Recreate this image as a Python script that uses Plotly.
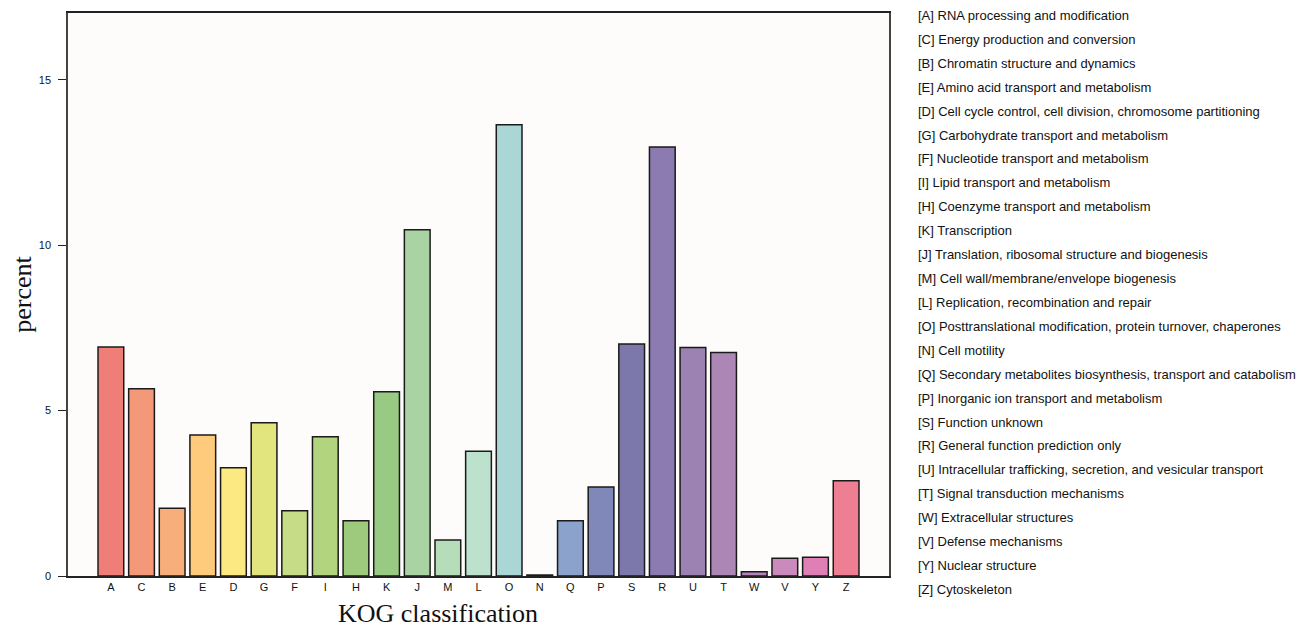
import plotly.graph_objects as go

categories = ["A","C","B","E","D","G","F","I","H","K","J","M","L","O","N","Q","P","S","R","U","T","W","V","Y","Z"]
percent = [6.92,5.66,2.05,4.26,3.27,4.63,1.97,4.21,1.67,5.57,10.47,1.09,3.77,13.64,0.03,1.67,2.69,7.01,12.97,6.91,6.76,0.13,0.54,0.57,2.88]
colors = ["#F07E78","#F39878","#F8AE79","#FDCB7B","#FDE981","#E2E57D","#C6DC86","#B3D47F","#9DCA7D",
          "#99CA84","#AAD3A3","#B6DDBA","#BCE1CD","#AAD6D6","#222222","#8BA3CC","#7F88B8","#7C78AC",
          "#8B7BB0","#9B82B3","#AC87B5","#B284BB","#CA8ABB","#DE80B6","#EE7F92"]
descriptions = [
    "[A] RNA processing and modification",
    "[C] Energy production and conversion",
    "[B] Chromatin structure and dynamics",
    "[E] Amino acid transport and metabolism",
    "[D] Cell cycle control, cell division, chromosome partitioning",
    "[G] Carbohydrate transport and metabolism",
    "[F] Nucleotide transport and metabolism",
    "[I] Lipid transport and metabolism",
    "[H] Coenzyme transport and metabolism",
    "[K] Transcription",
    "[J] Translation, ribosomal structure and biogenesis",
    "[M] Cell wall/membrane/envelope biogenesis",
    "[L] Replication, recombination and repair",
    "[O] Posttranslational modification, protein turnover, chaperones",
    "[N] Cell motility",
    "[Q] Secondary metabolites biosynthesis, transport and catabolism",
    "[P] Inorganic ion transport and metabolism",
    "[S] Function unknown",
    "[R] General function prediction only",
    "[U] Intracellular trafficking, secretion, and vesicular transport",
    "[T] Signal transduction mechanisms",
    "[W] Extracellular structures",
    "[V] Defense mechanisms",
    "[Y] Nuclear structure",
    "[Z] Cytoskeleton",
]

fig = go.Figure()
fig.add_trace(go.Bar(
    x=categories, y=percent,
    marker=dict(color=colors, line=dict(color="#1a1a1a", width=1.5)),
    showlegend=False,
))

# page body has an 8px offset; plot area target in screen px: x 66..889, y 11..576
OFF = 8
W, H = 1306, 622
ml, mr, mt = 66 - OFF, W - (889 - OFF), 11 - OFF
mb = H - (576 - OFF)
pw, ph = W - ml - mr, H - mt - mb


def px_to_paper(sx, sy):
    return (sx - OFF - ml) / pw, 1 - (sy - OFF - mt) / ph


for i, txt in enumerate(descriptions):
    px, py = px_to_paper(916.5, 13.5 + 24.0 * i)
    fig.add_annotation(
        xref="paper", yref="paper", x=px, y=py,
        text=txt, showarrow=False, xanchor="left", yanchor="middle",
        font=dict(family="Liberation Sans, Arial", size=13, color="#111111"),
    )

tx, ty = px_to_paper(437, 614)
fig.add_annotation(
    xref="paper", yref="paper", x=tx, y=ty, text="KOG classification",
    showarrow=False, xanchor="center", yanchor="middle",
    font=dict(family="Liberation Serif, Times New Roman", size=26, color="#111111"),
)

fig.update_layout(
    width=W, height=H,
    margin=dict(l=ml, r=mr, t=mt, b=mb),
    paper_bgcolor="white", plot_bgcolor="#FDFCFA",
    bargap=0.16,
    xaxis=dict(
        range=[-1.4, 25.4], showline=True, linecolor="#222222", linewidth=1.5,
        mirror=True, ticks="", showgrid=False, zeroline=False,
        tickfont=dict(family="Liberation Sans, Arial", size=11, color="#111111"),
    ),
    yaxis=dict(
        range=[0, 17.02], showline=True, linecolor="#444444", linewidth=1.5,
        mirror=True, ticks="outside", ticklen=8, tickcolor="#222222",
        ticklabelstandoff=5,
        tickvals=[0, 5, 10, 15], showgrid=False, zeroline=False,
        tickfont=dict(family="Liberation Sans, Arial", size=11, color="#111111"),
        title=dict(text="percent", standoff=10,
                   font=dict(family="Liberation Serif, Times New Roman", size=26, color="#111111")),
    ),
)

fig.write_html("out.html")
